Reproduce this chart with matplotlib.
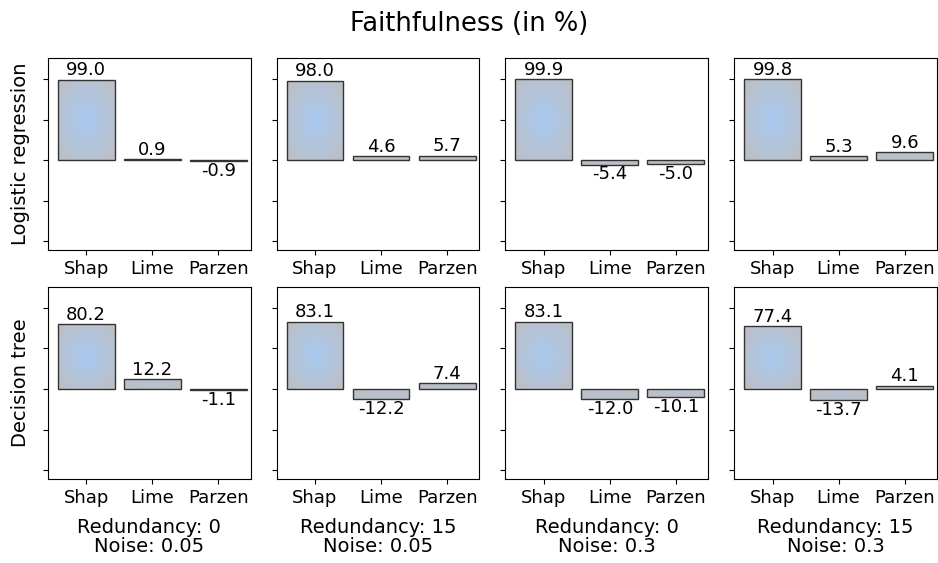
import matplotlib.pyplot as plt
import numpy as np
from matplotlib.colors import LinearSegmentedColormap

# explanation methods and settings
methods = ["Shap", "Lime", "Parzen"]
models = ["Logistic regression", "Decision tree"]
settings = ["Redundancy: 0\nNoise: 0.05", "Redundancy: 15\nNoise: 0.05",
            "Redundancy: 0\nNoise: 0.3", "Redundancy: 15\nNoise: 0.3"]

# faithfulness values per setting (Shap, Lime, Parzen)
lr_shap = [99.0, 98.0, 99.9, 99.8]
lr_lime = [0.9, 4.6, -5.4, 5.3]
lr_parzen = [-0.9, 5.7, -5.0, 9.6]
dt_shap = [80.2, 83.1, 83.1, 77.4]
dt_lime = [12.2, -12.2, -12.0, -13.7]
dt_parzen = [-1.1, 7.4, -10.1, 4.1]

rows = [(lr_shap, lr_lime, lr_parzen), (dt_shap, dt_lime, dt_parzen)]

# soft blue -> grey gradient used to fill the bars
cmap = LinearSegmentedColormap.from_list("barfill", ["#a8c9f0", "#b2c4dc", "#bcc0c6"])
u, v = np.meshgrid(np.linspace(-1, 1, 60), np.linspace(-1, 1, 60))
radial = np.clip(np.sqrt(u ** 2 + v ** 2) / 1.3, 0, 1)

fig, axes = plt.subplots(2, 4, figsize=(9.38, 5.63), dpi=100)
fig.subplots_adjust(left=0.051, right=0.999, top=0.897, bottom=0.149,
                    wspace=0.128, hspace=0.19)
fig.suptitle("Faithfulness (in %)", fontsize=18.5, y=0.98)

x = np.arange(len(methods))
for r, series in enumerate(rows):
    for c in range(4):
        ax = axes[r, c]
        vals = [s[c] for s in series]
        bars = ax.bar(x, vals, width=0.86, facecolor="none",
                      edgecolor="#333333", linewidth=1.0, zorder=3)
        for b, val in zip(bars, vals):
            x0 = b.get_x()
            x1 = x0 + b.get_width()
            y0, y1 = sorted([0, val])
            # short bars come out greyer
            k = np.clip(abs(val) / 50, 0.1, 1)
            grad = 1 - (1 - radial) * k
            im = ax.imshow(grad, cmap=cmap, extent=(x0, x1, y0, y1),
                           aspect="auto", vmin=0, vmax=1, zorder=2,
                           interpolation="bilinear")
            im.set_clip_path(b)
            xc = b.get_x() + b.get_width() / 2
            if val >= 0:
                ax.text(xc, val + 0.5, f"{val:.1f}", ha="center", va="bottom",
                        fontsize=13)
            else:
                ax.text(xc, val - 1, f"{val:.1f}", ha="center", va="top",
                        fontsize=13)
        ax.set_xlim(-0.58, 2.49)
        ax.set_ylim(-111, 126)
        ax.set_xticks(x)
        ax.set_xticklabels(methods, fontsize=13)
        ax.set_yticks([-100, -50, 0, 50, 100])
        ax.set_yticklabels([])
        if c == 0:
            ax.set_ylabel(models[r], fontsize=14, labelpad=6)
        if r == 1:
            ax.set_xlabel(settings[c], fontsize=14, linespacing=1.0, labelpad=8)

fig.savefig("out.png", dpi=100)
